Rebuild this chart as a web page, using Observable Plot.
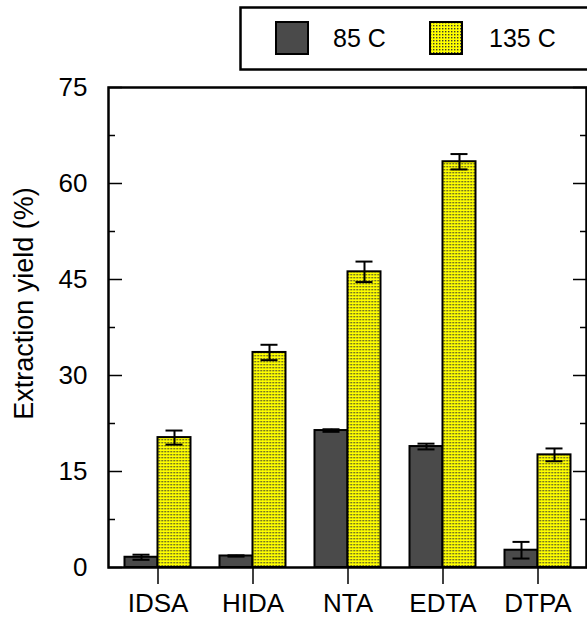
<!DOCTYPE html>
<html>
<head>
<meta charset="utf-8">
<script src="https://cdn.jsdelivr.net/npm/d3@7"></script>
<script src="https://cdn.jsdelivr.net/npm/@observablehq/plot@0.6"></script>
<style>
  body { margin: 0; background: #fff; }
  #wrap { position: relative; width: 587px; height: 619px; overflow: hidden; background: #fff; }
  #legend { position: absolute; left: 0; top: 0; }
</style>
</head>
<body>
<div id="wrap"></div>
<script>
// ---- data ----
const categories = ["IDSA", "HIDA", "NTA", "EDTA", "DTPA"];
const series = ["85 C", "135 C"];
const yield85 = [1.6, 1.8, 21.4, 18.9, 2.7];
const err85 = [0.4, 0.1, 0.2, 0.45, 1.3];
const yield135 = [20.3, 33.6, 46.2, 63.4, 17.6];
const err135 = [1.1, 1.2, 1.6, 1.2, 1.0];
const majorTicks = [0, 15, 30, 45, 60, 75];
const minorTicks = [7.5, 22.5, 37.5, 52.5, 67.5];
const yLabel = "Extraction yield (%)";

const rows85 = categories.map((c, i) => ({cat: c, v: yield85[i], e: err85[i]}));
const rows135 = categories.map((c, i) => ({cat: c, v: yield135[i], e: err135[i]}));

const FONT = "'Liberation Sans', Arial, Helvetica, sans-serif";
const DARK = "#4a4a4a";
const half = 16.5;

const plot = Plot.plot({
  width: 587,
  height: 619,
  marginTop: 87,
  marginBottom: 52,
  marginLeft: 108,
  marginRight: 1,
  style: {fontFamily: FONT, fontSize: "26px", background: "white", color: "black"},
  x: {domain: categories, paddingInner: 0.656, paddingOuter: 0.328, label: null},
  y: {domain: [0, 75], label: null},
  marks: [
    Plot.barY(rows85, {x: "cat", y: "v", fill: DARK, stroke: "black", strokeWidth: 2, dx: -half}),
    Plot.barY(rows135, {x: "cat", y: "v", fill: "url(#dots)", stroke: "black", strokeWidth: 2, dx: half}),
    Plot.ruleX(rows85, {x: "cat", y1: d => d.v - d.e, y2: d => d.v + d.e, dx: -half, strokeWidth: 2}),
    Plot.tickY(rows85, {x: "cat", y: d => d.v + d.e, dx: -half, inset: 8, strokeWidth: 2}),
    Plot.tickY(rows85, {x: "cat", y: d => d.v - d.e, dx: -half, inset: 8, strokeWidth: 2}),
    Plot.ruleX(rows135, {x: "cat", y1: d => d.v - d.e, y2: d => d.v + d.e, dx: half, strokeWidth: 2}),
    Plot.tickY(rows135, {x: "cat", y: d => d.v + d.e, dx: half, inset: 8, strokeWidth: 2}),
    Plot.tickY(rows135, {x: "cat", y: d => d.v - d.e, dx: half, inset: 8, strokeWidth: 2}),
    Plot.frame({stroke: "black", strokeWidth: 2.5}),
    Plot.axisY({ticks: majorTicks, tickSize: 0, tickPadding: 21, fontSize: 26, label: null}),
    Plot.axisY({ticks: majorTicks, tickSize: 14, dx: 14, strokeWidth: 1.5, tickFormat: () => "", label: null}),
    Plot.axisY({ticks: minorTicks, tickSize: 7, dx: 7, strokeWidth: 1.5, tickFormat: () => "", label: null}),
    Plot.axisY({anchor: "right", ticks: majorTicks, tickSize: 14, dx: -14, strokeWidth: 1.5, tickFormat: () => "", label: null}),
    Plot.axisY({anchor: "right", ticks: minorTicks, tickSize: 7, dx: -7, strokeWidth: 1.5, tickFormat: () => "", label: null}),
    Plot.axisX({anchor: "bottom", tickSize: 17, tickPadding: 9, strokeWidth: 1.5, fontSize: 26, label: null}),
    Plot.text([yLabel], {frameAnchor: "left", text: d => d, rotate: -90, textAnchor: "middle", dx: -84, dy: -24, fontSize: 27, fill: "black"})
  ]
});

// dotted yellow pattern
const ns = "http://www.w3.org/2000/svg";
function addPattern(svg) {
  const defs = document.createElementNS(ns, "defs");
  defs.innerHTML = `<pattern id="dots" patternUnits="userSpaceOnUse" width="3" height="3">
      <rect width="3" height="3" fill="#ffff00"></rect>
      <rect x="1" y="1" width="1.4" height="1.4" fill="#3d3d30"></rect>
    </pattern>`;
  svg.insertBefore(defs, svg.firstChild);
}
addPattern(plot);
const wrap = document.getElementById("wrap");
wrap.appendChild(plot);

// legend (drawn on top, above the frame)
const leg = document.createElementNS(ns, "svg");
leg.setAttribute("id", "legend");
leg.setAttribute("width", 587);
leg.setAttribute("height", 80);
const lf = FONT.replace(/'/g, "");
leg.innerHTML = `
  <rect x="240.5" y="7.5" width="400" height="62" fill="white" stroke="black" stroke-width="2.5"></rect>
  <rect x="276" y="22" width="32" height="32" fill="${DARK}" stroke="black" stroke-width="2"></rect>
  <text x="333" y="47" font-family="${lf}" font-size="25" fill="black">${series[0]}</text>
  <rect x="430" y="22" width="32" height="32" fill="url(#dots)" stroke="black" stroke-width="2"></rect>
  <text x="489" y="47" font-family="${lf}" font-size="25" fill="black">${series[1]}</text>`;
wrap.appendChild(leg);
</script>
</body>
</html>
